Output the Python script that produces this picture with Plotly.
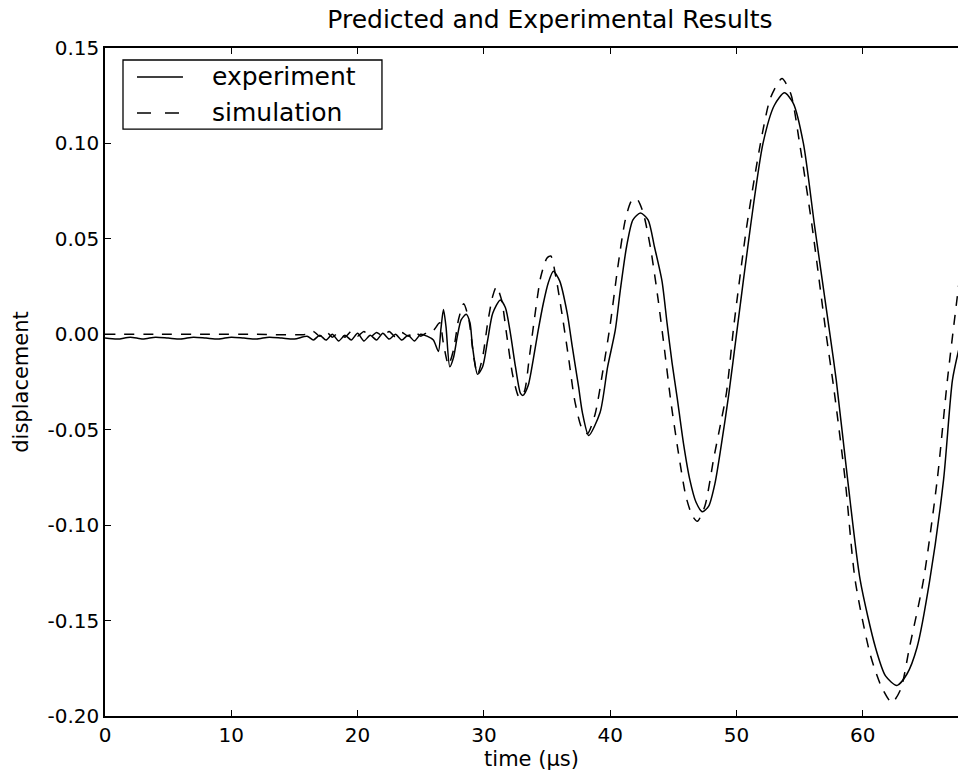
import plotly.graph_objects as go

# ---- data ----
exp_t = [0, 1, 2, 3, 4, 5, 6, 7, 8, 9, 10, 11, 12, 13, 14, 15,
         16, 16.5, 17, 17.5, 18, 18.5, 19, 19.5, 20, 20.5, 21, 21.5, 22, 22.5,
         23, 23.5, 24, 24.5, 25, 25.5, 26.0, 26.4, 26.6, 26.8, 27.0, 27.3, 27.6,
         27.9, 28.2, 28.6, 28.9, 29.1, 29.5, 29.9, 30.3, 30.7, 31.3, 31.7, 32.1,
         32.5, 32.9, 33.1, 33.5, 33.9, 34.3, 34.7, 35.1, 35.5, 36.0, 36.6, 37.0,
         37.5, 37.8, 38.3, 39.2, 39.8, 40.4, 40.8, 41.3, 41.8, 42.4, 43.0, 43.5,
         44.1, 44.5, 44.9, 45.3, 45.8, 46.3, 46.8, 47.3, 47.8, 48.3, 48.8, 49.4,
         50.0, 51.1, 52.1, 53.0, 53.8, 54.5, 55.3, 56.2, 57.4, 57.9, 58.8, 59.8,
         61.0, 61.8, 62.7, 63.5, 64.3, 65.3, 66.4, 67.1, 67.6]
exp_v = [-0.002, -0.0025, -0.0015, -0.0025, -0.0015, -0.002, -0.0025, -0.0015,
         -0.002, -0.0025, -0.0015, -0.002, -0.0025, -0.0015, -0.002, -0.0025,
         -0.001, -0.003, -0.0005, -0.003, 0.0, -0.0035, -0.0005, -0.003, 0.0005,
         -0.0035, -0.0005, -0.003, 0.0005, -0.0025, 0.0, -0.003, -0.0005, -0.0035,
         0.0, -0.001, -0.003, -0.009, 0.003, 0.013, 0.004, -0.017, -0.012,
         -0.001, 0.0075, 0.0105, 0.006, -0.0065, -0.021, -0.017, -0.003, 0.011,
         0.018, 0.014, 0.0005, -0.017, -0.031, -0.032, -0.027, -0.0135, 0.002,
         0.016, 0.027, 0.033, 0.028, 0.011, -0.0065, -0.0276, -0.041, -0.053,
         -0.041, -0.017, 0.002, 0.023, 0.046, 0.060, 0.0635, 0.060, 0.046,
         0.028, 0.006, -0.015, -0.033, -0.057, -0.076, -0.088, -0.093, -0.090,
         -0.078, -0.058, -0.031, 0.0, 0.056, 0.100, 0.120, 0.1265, 0.121, 0.100,
         0.056, 0.0, -0.024, -0.076, -0.129, -0.164, -0.179, -0.184, -0.178,
         -0.164, -0.129, -0.076, -0.024, -0.008]

sim_t = [0, 4, 8, 12, 16, 16.5, 17, 17.5, 18, 18.5, 19, 19.5, 20, 20.5, 21,
         21.5, 22, 22.5, 23, 23.5, 24, 24.5, 25, 25.5, 26.0, 26.5, 26.8, 27.2,
         27.6, 28.0, 28.4, 28.8, 29.2, 29.5, 29.9, 30.3, 30.7, 31.0, 31.4, 31.8,
         32.3, 32.8, 33.2, 33.6, 34.0, 34.5, 35.0, 35.3, 35.7, 36.2, 36.7, 37.2,
         37.8, 38.2, 38.8, 39.4, 40.0, 40.6, 41.2, 41.7, 42.1, 42.6, 43.2, 43.8,
         44.3, 44.8, 45.4, 46.0, 46.5, 46.9, 47.5, 48.2, 48.8, 49.2, 49.8, 50.8,
         51.9, 52.7, 53.6, 54.3, 55.0, 56.0, 57.1, 57.7, 58.6, 59.4, 60.6, 61.5,
         62.3, 63.0, 63.7, 64.8, 65.9, 66.7, 67.6]
sim_v = [0.0, 0.0, 0.0, 0.0, 0.0, 0.0015, -0.001, 0.0015, -0.0015, 0.001,
         -0.0015, 0.0015, -0.001, 0.0015, -0.0015, 0.001, -0.001, 0.0015,
         -0.0015, 0.001, -0.001, 0.0015, -0.001, 0.001, 0.002, 0.006, -0.005,
         -0.016, -0.008, 0.008, 0.016, 0.008, -0.012, -0.021, -0.012, 0.006,
         0.020, 0.025, 0.018, 0.0, -0.022, -0.033, -0.030, -0.012, 0.008, 0.030,
         0.040, 0.041, 0.030, 0.010, -0.012, -0.035, -0.050, -0.052, -0.042,
         -0.020, 0.005, 0.035, 0.060, 0.070, 0.071, 0.064, 0.045, 0.018, -0.008,
         -0.035, -0.062, -0.085, -0.095, -0.098, -0.090, -0.065, -0.045, -0.031,
         0.005, 0.056, 0.100, 0.124, 0.134, 0.126, 0.100, 0.056, 0.0, -0.028,
         -0.076, -0.129, -0.168, -0.185, -0.193, -0.186, -0.164, -0.129, -0.076,
         -0.024, 0.026]

series_names = ["experiment", "simulation"]
x_ticks = [0, 10, 20, 30, 40, 50, 60]
x_tick_text = ["0", "10", "20", "30", "40", "50", "60"]
y_ticks = [-0.20, -0.15, -0.10, -0.05, 0.00, 0.05, 0.10, 0.15]
y_tick_text = ["-0.20", "-0.15", "-0.10", "-0.05", "0.00", "0.05", "0.10", "0.15"]

FONT = "DejaVu Sans"
DASH = "10px,9px"

fig = go.Figure()
fig.add_trace(go.Scatter(x=exp_t, y=exp_v, mode="lines", name=series_names[0],
                         line=dict(color="black", width=1.5, shape="spline", smoothing=0.7)))
fig.add_trace(go.Scatter(x=sim_t, y=sim_v, mode="lines", name=series_names[1],
                         line=dict(color="black", width=1.5, dash=DASH,
                                   shape="spline", smoothing=0.7)))

# ---- legend box drawn in paper coordinates (matplotlib-style) ----
shapes = [
    dict(type="rect", xref="paper", yref="paper", x0=0.0211, x1=0.3247,
         y0=0.8787, y1=0.982, line=dict(color="black", width=1.3),
         fillcolor="white", layer="above"),
    dict(type="line", xref="paper", yref="paper", x0=0.0375, x1=0.0914,
         y0=0.9566, y1=0.9566, line=dict(color="black", width=1.5), layer="above"),
    dict(type="line", xref="paper", yref="paper", x0=0.0375, x1=0.0914,
         y0=0.9027, y1=0.9027, line=dict(color="black", width=1.5, dash="14px,14px"),
         layer="above"),
]
annotations = [
    dict(text=series_names[0], xref="paper", yref="paper", x=0.1231, y=0.9566,
         xanchor="left", yanchor="middle", showarrow=False,
         font=dict(family=FONT, size=25, color="black")),
    dict(text=series_names[1], xref="paper", yref="paper", x=0.1231, y=0.9027,
         xanchor="left", yanchor="middle", showarrow=False,
         font=dict(family=FONT, size=25, color="black")),
]

fig.update_layout(
    width=958, height=776,
    margin=dict(l=105, r=0, t=48, b=60),
    paper_bgcolor="white", plot_bgcolor="white",
    font=dict(family=FONT, color="black", size=20),
    title=dict(text="Predicted and Experimental Results", x=0.574, xref="container",
               xanchor="center", y=0.975, yref="container", yanchor="middle",
               font=dict(family=FONT, size=25, color="black")),
    showlegend=False,
    shapes=shapes,
    annotations=annotations,
)
fig.update_xaxes(range=[0, 67.54], tickvals=x_ticks, ticktext=x_tick_text,
                 ticks="inside", ticklen=6, tickcolor="black", tickwidth=1,
                 showline=True, linecolor="black", linewidth=1.5, mirror="ticks",
                 showgrid=False, zeroline=False,
                 title=dict(text="time (µs)", font=dict(size=21), standoff=2))
fig.update_yaxes(range=[-0.20, 0.15], tickvals=y_ticks, ticktext=y_tick_text,
                 ticks="inside", ticklen=6, tickcolor="black", tickwidth=1,
                 showline=True, linecolor="black", linewidth=1.5, mirror=False,
                 showgrid=False, zeroline=False,
                 title=dict(text="displacement", font=dict(size=21), standoff=13))

fig.write_html("out.html")
